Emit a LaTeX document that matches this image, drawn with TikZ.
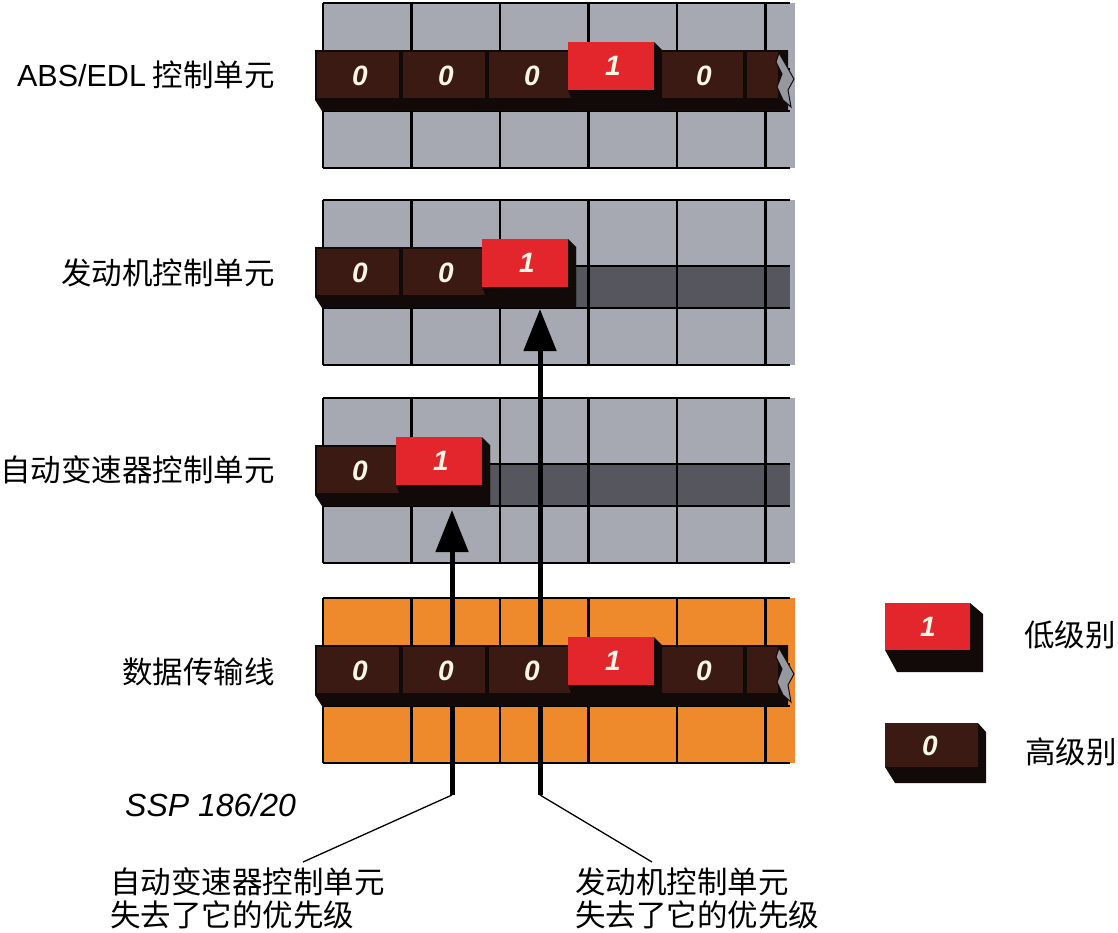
\documentclass[tikz,border=0pt]{standalone}
\usepackage{fontspec}
\setmainfont{Liberation Sans}
\newfontfamily\cjk{Noto Sans CJK SC}
\usetikzlibrary{arrows.meta}
\definecolor{panelgray}{RGB}{167,169,178}
\definecolor{bandgray}{RGB}{86,87,94}
\definecolor{panelorange}{RGB}{239,138,44}
\definecolor{bitred}{RGB}{227,38,43}
\definecolor{bitbrown}{RGB}{59,26,20}
\definecolor{busblack}{RGB}{18,10,8}
\definecolor{digitcream}{RGB}{250,246,230}
\definecolor{torngray}{RGB}{150,152,160}
\tikzset{
  gridline/.style={line width=2.6pt, draw=black},
  bitdigit/.style={text=digitcream, font=\fontsize{28}{28}\selectfont\bfseries\itshape, inner sep=0pt},
  cntext/.style={font=\cjk\fontsize{30.5}{30.5}\selectfont, inner sep=0pt, text=black},
  ssptext/.style={font=\fontsize{32}{32}\selectfont\itshape, inner sep=0pt, text=black},
  bigarrow/.style={line width=5pt, draw=black, -{Triangle[length=42pt,width=32pt]}},
  leader/.style={line width=1.3pt, draw=black},
}
\newcommand{\gridpanel}[2]{\fill[#2] (323,#1) rectangle (795,#1+165);}
\newcommand{\gridlines}[1]{%
  \draw[gridline] (323,#1) -- (790,#1) (323,#1+165) -- (790,#1+165)
    (323,#1+66) -- (790,#1+66) (323,#1+108) -- (790,#1+108);
  \foreach \gx in {323,411.5,500,588.5,677,765.5} {\draw[gridline] (\gx,#1) -- (\gx,#1+165);}
}
\newcommand{\busbg}[2]{\fill[busblack] (315,#1) -- (#2,#1) -- (#2,#1+61) -- (322,#1+61) -- (315,#1+50) -- cycle;}
\newcommand{\zbit}[2]{%
  \fill[bitbrown] (#1+2,#2+2) rectangle (#1+84,#2+48);
  \node[bitdigit] (z-#1-#2) at (#1+45,#2+26) {0};}
\newcommand{\obit}[2]{%
  \fill[busblack] (#1-5,#2+40) -- (#1+81,#2+40) -- (#1+81,#2-8) -- (#1+89,#2) -- (#1+89,#2+61) -- (#1+3,#2+61) -- cycle;
  \fill[bitred] (#1-5,#2-8) rectangle (#1+81,#2+40);
  \node[bitdigit] (o-#1-#2) at (#1+40,#2+16) {1};}
\newcommand{\tornend}[1]{%
  \filldraw[fill=torngray, draw=busblack, line width=1pt] (779,#1+3) -- (786,#1+15) -- (794,#1+29) -- (788,#1+40) -- (791,#1+57) -- (783,#1+50) -- (777,#1+37) -- (782,#1+24) -- (776,#1+12) -- cycle;}
\newcommand{\fullbus}[1]{%
  \busbg{#1}{788}
  \zbit{315}{#1}\zbit{401}{#1}\zbit{487}{#1}\zbit{659}{#1}
  \fill[bitbrown] (747,#1+2) rectangle (778,#1+48);
  \obit{573}{#1}
  \tornend{#1}}
\begin{document}
\begin{tikzpicture}[x=1pt,y=-1pt]
\useasboundingbox (0,0) rectangle (1118,932);
% panel 1: ABS/EDL
\gridpanel{3}{panelgray}
\gridlines{3}
\fullbus{50}
% panel 2: engine
\gridpanel{200}{panelgray}
\fill[bandgray] (576,266) rectangle (790,308);
\gridlines{200}
\busbg{247}{576}
\zbit{315}{247}\zbit{401}{247}
\obit{487}{247}
% panel 3: gearbox
\gridpanel{398}{panelgray}
\fill[bandgray] (490,464) rectangle (790,506);
\gridlines{398}
\busbg{445}{490}
\zbit{315}{445}
\obit{401}{445}
% panel 4: data line
\gridpanel{598}{panelorange}
\gridlines{598}
% arrows
\coordinate (aL0) at (452,795);
\coordinate (aL1) at (452,510);
\coordinate (aR0) at (540,795);
\coordinate (aR1) at (540,309);
\draw[bigarrow] (aL0) -- (aL1);
\draw[bigarrow] (aR0) -- (aR1);
\fullbus{645}
% leaders
\coordinate (tL) at (303,862);
\coordinate (tR) at (652,862);
\draw[leader] (aL0) -- (tL);
\draw[leader] (aR0) -- (tR);
% legend
\fill[busblack] (885,650) -- (970,650) -- (970,603) -- (983,614) -- (983,672) -- (897,672) -- cycle;
\fill[bitred] (885,603) rectangle (970,650);
\node[bitdigit] (lg1) at (928,627) {1};
\fill[busblack] (885,767) -- (978,767) -- (978,723) -- (986,732) -- (986,783) -- (895,783) -- cycle;
\fill[bitbrown] (885,723) rectangle (978,767);
\node[bitdigit] (lg0) at (930,746) {0};
\node[cntext, anchor=base west] (lowtxt) at (1024,646.5) {低级别};
\node[cntext, anchor=base west] (hightxt) at (1025,763.5) {高级别};
% left labels
\node[cntext, anchor=base east] (l1) at (275,86.5) {{\rmfamily ABS/EDL} 控制单元};
\node[cntext, anchor=base east] (l2) at (275,284.5) {发动机控制单元};
\node[cntext, anchor=base east] (l3) at (275,481.5) {自动变速器控制单元};
\node[cntext, anchor=base east] (l4) at (275,683.5) {数据传输线};
% bottom texts
\node[ssptext, anchor=base west] (ssp) at (125,816.5) {SSP 186/20};
\node[cntext, anchor=base west] (bl1) at (110,893.5) {自动变速器控制单元};
\node[cntext, anchor=base west] (bl2) at (110,926.5) {失去了它的优先级};
\node[cntext, anchor=base west] (br1) at (575,893.5) {发动机控制单元};
\node[cntext, anchor=base west] (br2) at (575,926.5) {失去了它的优先级};
\end{tikzpicture}
\end{document}
